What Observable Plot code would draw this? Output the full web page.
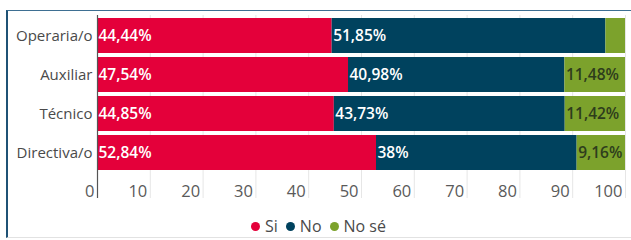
<!DOCTYPE html>
<html>
<head>
<meta charset="utf-8">
<script src="https://cdn.jsdelivr.net/npm/d3@7"></script>
<script src="https://cdn.jsdelivr.net/npm/@observablehq/plot@0.6"></script>
<style>
  html, body { margin: 0; padding: 0; background: #fff; }
  body { width: 631px; height: 240px; position: relative; overflow: hidden; font-family: "Open Sans", sans-serif; }
  #frame { position: absolute; left: 6px; top: 10px; right: -2px; bottom: 2px;
           border-left: 2px solid #1f5275; border-top: 1.5px solid #3e6f92; border-bottom: 1px solid #e2e2e2; z-index: 0; }
  #chart { position: absolute; left: 0; top: 0; z-index: 1; }
  #legend { position: absolute; left: 6px; right: 0; top: 215px; z-index: 1;
            display: flex; justify-content: center; gap: 8px; font-size: 16px; color: #4a4a4a; }
  #legend span.item { display: inline-flex; align-items: center; gap: 5px; }
  #legend span.dot { width: 9px; height: 9px; border-radius: 50%; display: inline-block; }
</style>
</head>
<body>
<div id="frame"></div>
<div id="chart"></div>
<div id="legend"></div>
<script>
const categories = ["Operaria/o", "Auxiliar", "Técnico", "Directiva/o"];
const series = ["Si", "No", "No sé"];
const colors = ["#e4003a", "#00425e", "#7ca22c"];
const si   = [44.44, 47.54, 44.85, 52.84];
const no   = [51.85, 40.98, 43.73, 38];
const nose = [3.71, 11.48, 11.42, 9.16];
const noseShown = [false, true, true, true];
const xTicks = [0, 10, 20, 30, 40, 50, 60, 70, 80, 90, 100];

const fmt = v => String(v).replace(".", ",") + "%";
const rows = [];
categories.forEach((c, i) => {
  rows.push({cat: c, series: "Si", value: si[i], label: fmt(si[i])});
  rows.push({cat: c, series: "No", value: no[i], label: fmt(no[i])});
  rows.push({cat: c, series: "No sé", value: nose[i], label: noseShown[i] ? fmt(nose[i]) : ""});
});

const chart = Plot.plot({
  width: 631,
  height: 205,
  marginLeft: 97,
  marginRight: 6,
  marginTop: 15,
  marginBottom: 7,
  style: {background: "transparent", fontFamily: "Open Sans, sans-serif"},
  x: {domain: [0, 100], ticks: xTicks},
  y: {domain: categories, range: [16, 172], paddingInner: 0.1, paddingOuter: 0.05},
  color: {domain: series, range: colors},
  marks: [
    Plot.gridX(xTicks, {stroke: "#e6e6e6", strokeOpacity: 1}),
    Plot.barX(rows, Plot.stackX({x: "value", y: "cat", fill: "series", order: series})),
    Plot.text(rows, Plot.stackX1({x: "value", y: "cat", z: "series", order: series, text: "label",
      textAnchor: "start", dx: 1, fontSize: 15.5, fontWeight: 600,
      fill: d => d.series === "No sé" ? "#2e3d1c" : "#ffffff"})),
    Plot.ruleX([0], {stroke: "#555", strokeWidth: 1.2}),
    Plot.axisY({tickSize: 0, tickPadding: 5, fontSize: 15, fill: "#4a4a4a", label: null}),
    Plot.axisX(xTicks, {tickSize: 0, textAnchor: "end", dx: -3, dy: -22, fontSize: 16.5, fill: "#5a5a5a", label: null})
  ]
});
document.getElementById("chart").appendChild(chart);

const legend = document.getElementById("legend");
series.forEach((s, i) => {
  const item = document.createElement("span");
  item.className = "item";
  const dot = document.createElement("span");
  dot.className = "dot";
  dot.style.background = colors[i];
  item.appendChild(dot);
  item.appendChild(document.createTextNode(s));
  legend.appendChild(item);
});
</script>
</body>
</html>
